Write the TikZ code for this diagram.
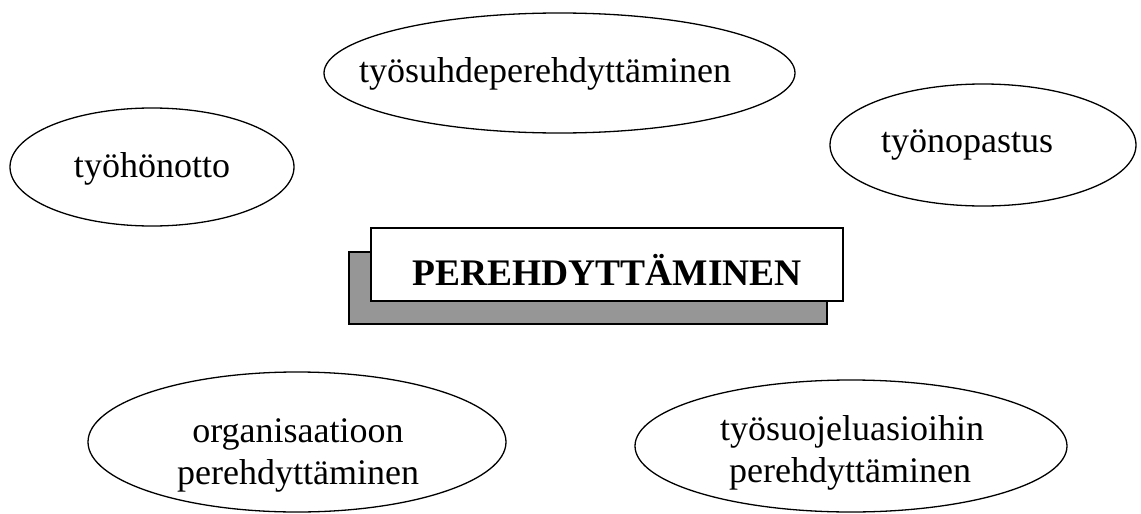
\documentclass[tikz,border=0pt]{standalone}
\usepackage{fontspec}
\setmainfont{Liberation Serif}
\usetikzlibrary{shapes.geometric}
\begin{document}
\begin{tikzpicture}[x=1pt,y=-1pt,
  oval/.style={draw=black,line width=1.3pt,ellipse,inner sep=0pt,fill=white},
  lbl/.style={font=\fontsize{36}{41}\selectfont,inner sep=0pt,anchor=base},
  boxfront/.style={draw=black,line width=1.3pt,fill=white,inner sep=0pt},
  boxshadow/.style={draw=black,line width=1.3pt,fill=black!41,inner sep=0pt}]
\useasboundingbox (0,0) rectangle (1141,514);
\clip (0,0) rectangle (1141,514);
% ellipses
\node[oval,minimum width=471pt,minimum height=120pt] (e1) at (559.5,73) {};
\node[lbl] (t1) at (545,82) {työsuhdeperehdyttäminen};
\node[oval,minimum width=284pt,minimum height=118pt] (e2) at (152,167) {};
\node[lbl] (t2) at (152,177) {työhönotto};
\node[oval,minimum width=306pt,minimum height=122pt] (e3) at (983,145) {};
\node[lbl] (t3) at (967,152) {työnopastus};
\node[oval,minimum width=418pt,minimum height=140pt] (e4) at (297,442) {};
\node[lbl] (t4a) at (298,442) {organisaatioon};
\node[lbl] (t4b) at (298,484) {perehdyttäminen};
\node[oval,minimum width=432pt,minimum height=132pt] (e5) at (851,446) {};
\node[lbl] (t5a) at (852,440) {työsuojeluasioihin};
\node[lbl] (t5b) at (850,482) {perehdyttäminen};
% central box with shadow
\node[boxshadow,minimum width=478pt,minimum height=72pt] (sh) at (588,288) {};
\node[boxfront,minimum width=472pt,minimum height=73pt] (fr) at (607,264.5) {};
\node[lbl,font=\fontsize{37.5}{42}\selectfont\bfseries] (tc) at (607,285) {PEREHDYTTÄMINEN};
\end{tikzpicture}
\end{document}
